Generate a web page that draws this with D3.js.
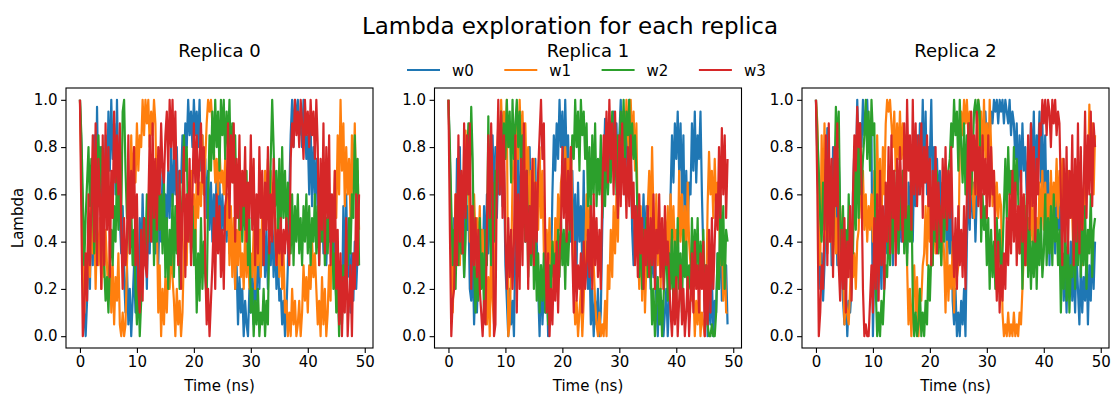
<!DOCTYPE html>
<html>
<head>
<meta charset="utf-8">
<script src="https://cdn.jsdelivr.net/npm/d3@7"></script>
<style>
  body { margin: 0; background: #fff; }
  svg { display: block; font-family: "DejaVu Sans", sans-serif; }
</style>
</head>
<body>
<svg id="chart" width="1112" height="398"></svg>
<script>
// chart data
const replicaNames = ["Replica 0", "Replica 1", "Replica 2"];
const seriesNames = ["w0", "w1", "w2", "w3"];
const seriesColors = ["#1f77b4", "#ff7f0e", "#2ca02c", "#d62728"];
const timeStep = 0.25; // ns between samples
const xTicks = [0, 10, 20, 30, 40, 50];
const yTicks = [0.0, 0.2, 0.4, 0.6, 0.8, 1.0];

// replica 0, one row = 5 ns
const rep0W0 = [
  1.0, 0.8, 0.4, 0.1, 0.0, 0.15, 0.45, 0.2, 0.6, 0.3, 0.85, 0.4, 0.97, 0.55, 0.8, 0.35, 0.7, 0.5, 0.85, 0.6,
  0.95, 0.7, 1.0, 0.75, 0.9, 0.6, 1.0, 0.65, 0.5, 0.35, 0.55, 0.25, 0.1, 0.3, 0.05, 0.2, 0.0, 0.15, 0.3, 0.1,
  0.4, 0.15, 0.5, 0.25, 0.6, 0.3, 0.45, 0.2, 0.55, 0.35, 0.65, 0.4, 0.7, 0.35, 0.6, 0.3, 0.55, 0.4, 0.7, 0.45,
  0.6, 0.45, 0.7, 0.5, 0.8, 0.55, 0.75, 0.6, 0.8, 0.55, 0.7, 0.65, 0.85, 0.7, 0.9, 0.8, 1.0, 0.85, 0.95, 0.8,
  1.0, 0.85, 0.95, 0.8, 1.0, 0.7, 0.85, 0.6, 0.75, 0.5, 0.7, 0.45, 0.65, 0.4, 0.6, 0.45, 0.7, 0.5, 0.65, 0.4,
  0.6, 0.45, 0.55, 0.4, 0.6, 0.35, 0.5, 0.3, 0.45, 0.2, 0.3, 0.05, 0.25, 0.1, 0.2, 0.0, 0.15, 0.05, 0.0, 0.2,
  0.1, 0.3, 0.05, 0.25, 0.15, 0.4, 0.2, 0.45, 0.3, 0.5, 0.25, 0.45, 0.2, 0.4, 0.3, 0.5, 0.25, 0.45, 0.2, 0.35,
  0.15, 0.2, 0.05, 0.15, 0.0, 0.1, 0.3, 0.6, 0.85, 1.0, 0.8, 1.0, 0.9, 1.0, 0.85, 0.95, 0.8, 1.0, 0.9, 0.75,
  0.85, 0.6, 0.9, 0.55, 0.8, 0.6, 0.75, 0.5, 0.65, 0.4, 0.6, 0.35, 0.55, 0.3, 0.5, 0.4, 0.6, 0.35, 0.5, 0.3,
  0.15, 0.4, 0.05, 0.3, 0.1, 0.55, 0.2, 0.6, 0.25, 0.45, 0.1, 0.35, 0.15, 0.4, 0.2, 0.35, 0.3
];
const rep0W1 = [
  1.0, 0.7, 0.35, 0.1, 0.3, 0.2, 0.5, 0.25, 0.6, 0.35, 0.55, 0.2, 0.45, 0.3, 0.5, 0.2, 0.4, 0.25, 0.45, 0.3,
  0.15, 0.4, 0.1, 0.3, 0.05, 0.25, 0.15, 0.35, 0.05, 0.0, 0.1, 0.0, 0.05, 0.3, 0.55, 0.45, 0.85, 0.6, 0.8, 0.65,
  0.9, 0.7, 0.85, 0.8, 1.0, 0.85, 1.0, 0.9, 1.0, 0.8, 0.95, 0.85, 1.0, 0.9, 0.5, 0.1, 0.3, 0.0, 0.2, 0.05,
  0.25, 0.1, 0.3, 0.2, 0.4, 0.25, 0.15, 0.0, 0.2, 0.05, 0.15, 0.0, 0.1, 0.35, 0.55, 0.3, 0.65, 0.4, 0.7, 0.45,
  0.6, 0.35, 0.7, 0.5, 0.65, 0.55, 0.85, 0.6, 0.75, 0.9, 1.0, 0.95, 1.0, 0.9, 0.8, 0.65, 0.75, 0.6, 0.8, 0.65,
  0.7, 0.6, 0.75, 0.45, 0.6, 0.3, 0.55, 0.25, 0.5, 0.2, 0.45, 0.3, 0.55, 0.25, 0.35, 0.2, 0.45, 0.25, 0.4, 0.2,
  0.35, 0.25, 0.45, 0.2, 0.4, 0.3, 0.45, 0.25, 0.55, 0.5, 0.7, 0.55, 0.75, 0.6, 0.7, 0.5, 0.65, 0.45, 0.3, 0.5,
  0.25, 0.45, 0.2, 0.35, 0.1, 0.15, 0.0, 0.1, 0.0, 0.2, 0.05, 0.15, 0.0, 0.05, 0.15, 0.0, 0.1, 0.3, 0.15, 0.25,
  0.1, 0.3, 0.2, 0.4, 0.25, 0.35, 0.2, 0.05, 0.15, 0.0, 0.25, 0.05, 0.2, 0.0, 0.1, 0.3, 0.15, 0.55, 0.4, 0.7,
  0.5, 0.85, 0.6, 1.0, 0.7, 0.9, 0.55, 0.8, 0.6, 0.75, 0.5, 0.85, 0.6, 0.9, 0.55, 0.7, 0.45
];
const rep0W2 = [
  1.0, 0.85, 0.6, 0.3, 0.5, 0.65, 0.8, 0.55, 0.75, 0.6, 0.35, 0.55, 0.7, 0.85, 0.6, 0.8, 0.65, 0.3, 0.15, 0.25,
  0.1, 0.3, 0.45, 0.3, 0.55, 0.4, 0.7, 0.45, 0.65, 0.5, 0.95, 1.0, 0.7, 0.5, 0.65, 0.35, 0.55, 0.3, 0.45, 0.2,
  0.05, 0.25, 0.0, 0.15, 0.3, 0.5, 0.35, 0.6, 0.4, 0.7, 0.45, 0.65, 0.3, 0.55, 0.4, 0.7, 0.45, 0.6, 0.35, 0.65,
  0.25, 0.5, 0.2, 0.45, 0.3, 0.6, 0.25, 0.55, 0.35, 0.5, 0.2, 0.45, 0.6, 0.85, 0.7, 0.8, 0.45, 0.6, 0.35, 0.55,
  0.3, 0.45, 0.1, 0.35, 0.15, 0.5, 0.2, 0.4, 0.25, 0.15, 0.6, 0.85, 0.7, 0.95, 0.75, 1.0, 0.8, 0.95, 0.7, 1.0,
  0.85, 1.0, 0.75, 0.95, 0.8, 1.0, 0.7, 0.9, 0.65, 0.85, 0.5, 0.7, 0.45, 0.65, 0.4, 0.6, 0.45, 0.7, 0.3, 0.5,
  0.1, 0.2, 0.0, 0.15, 0.05, 0.2, 0.0, 0.1, 0.05, 0.2, 0.0, 0.15, 0.05, 0.5, 0.75, 1.0, 0.8, 0.55, 0.7, 0.45,
  0.75, 0.4, 0.8, 0.5, 0.7, 0.45, 0.65, 0.5, 0.35, 0.6, 0.3, 0.55, 0.4, 0.6, 0.35, 0.5, 0.3, 0.55, 0.4, 0.6,
  0.35, 0.55, 0.3, 0.5, 0.4, 0.6, 0.35, 0.55, 0.3, 0.6, 0.4, 0.55, 0.3, 0.5, 0.35, 0.6, 0.4, 0.55, 0.2, 0.35,
  0.1, 0.25, 0.0, 0.2, 0.05, 0.3, 0.15, 0.4, 0.3, 0.5, 0.35, 0.6, 0.5, 0.85, 0.6, 0.75, 0.3
];
const rep0W3 = [
  1.0, 0.5, 0.0, 0.1, 0.35, 0.15, 0.6, 0.3, 0.55, 0.85, 0.4, 0.9, 0.3, 0.75, 0.6, 0.2, 0.85, 0.3, 0.9, 0.45,
  0.8, 0.25, 0.7, 0.5, 0.95, 0.65, 0.85, 0.6, 0.9, 0.45, 0.2, 0.5, 0.3, 0.4, 0.85, 0.35, 0.7, 0.5, 0.8, 0.3,
  0.6, 0.2, 0.1, 0.45, 0.15, 0.5, 0.3, 0.25, 0.55, 0.85, 0.4, 0.9, 0.5, 0.75, 0.45, 0.8, 0.6, 0.9, 0.7, 0.65,
  0.85, 0.95, 0.7, 1.0, 0.8, 1.0, 0.75, 0.95, 0.6, 0.3, 0.7, 0.2, 0.55, 0.8, 0.25, 0.6, 0.4, 0.75, 0.3, 0.6,
  0.9, 0.65, 0.85, 0.6, 0.75, 0.9, 0.65, 0.8, 0.3, 0.05, 0.2, 0.0, 0.15, 0.3, 0.5, 0.2, 0.6, 0.35, 0.55, 0.25,
  0.45, 0.2, 0.55, 0.6, 0.9, 0.5, 0.85, 0.65, 0.9, 0.4, 0.75, 0.5, 0.85, 0.45, 0.7, 0.55, 0.8, 0.4, 0.65, 0.5,
  0.85, 0.45, 0.75, 0.3, 0.6, 0.35, 0.8, 0.5, 0.7, 0.3, 0.65, 0.45, 0.8, 0.35, 0.6, 0.4, 0.75, 0.5, 0.3, 0.45,
  0.35, 0.5, 0.3, 0.45, 0.35, 0.5, 0.4, 0.3, 0.75, 0.9, 0.8, 1.0, 0.85, 0.95, 0.8, 1.0, 0.9, 0.75, 1.0, 0.85,
  0.95, 0.8, 1.0, 0.85, 0.95, 0.75, 1.0, 0.8, 0.3, 0.75, 0.45, 0.9, 0.35, 0.8, 0.5, 0.85, 0.3, 0.6, 0.4, 0.7,
  0.2, 0.45, 0.05, 0.35, 0.0, 0.25, 0.1, 0.5, 0.0, 0.15, 0.3, 0.0, 0.35, 0.2, 0.6, 0.3, 0.6
];

// replica 1
const rep1W0 = [
  1.0, 0.75, 0.45, 0.2, 0.5, 0.3, 0.75, 0.4, 0.8, 0.35, 0.6, 0.25, 0.7, 0.45, 0.55, 0.2, 0.15, 0.35, 0.05, 0.25,
  0.1, 0.3, 0.2, 0.45, 0.25, 0.55, 0.3, 0.6, 0.35, 0.5, 0.6, 0.85, 0.55, 0.8, 0.5, 0.75, 0.6, 0.85, 0.55, 0.7,
  0.3, 0.15, 0.0, 0.2, 0.05, 0.15, 0.0, 0.4, 0.55, 0.8, 0.45, 0.7, 0.5, 0.75, 0.4, 0.65, 0.55, 0.8, 0.45, 0.7,
  0.5, 0.75, 0.4, 0.2, 0.0, 0.3, 0.05, 0.2, 0.1, 0.3, 0.0, 0.15, 0.25, 0.6, 0.85, 0.7, 0.9, 0.75, 1.0, 0.8,
  0.95, 0.7, 1.0, 0.75, 0.85, 0.6, 0.4, 0.7, 0.35, 0.6, 0.3, 0.65, 0.4, 0.55, 0.3, 0.7, 0.25, 0.4, 0.2, 0.35,
  0.05, 0.2, 0.0, 0.15, 0.05, 0.2, 0.0, 0.1, 0.45, 0.7, 0.92, 0.75, 0.9, 0.7, 0.85, 0.75, 0.95, 0.8, 0.9, 0.65,
  0.85, 1.0, 0.7, 0.95, 0.6, 0.85, 0.75, 1.0, 0.8, 0.45, 0.3, 0.55, 0.35, 0.6, 0.3, 0.5, 0.4, 0.6, 0.35, 0.55,
  0.3, 0.45, 0.2, 0.4, 0.25, 0.35, 0.15, 0.0, 0.2, 0.05, 0.15, 0.0, 0.1, 0.2, 0.0, 0.15, 0.6, 0.85, 0.65, 0.9,
  0.75, 0.95, 0.7, 0.9, 0.6, 0.85, 0.4, 0.7, 0.45, 0.65, 0.6, 0.9, 0.7, 0.95, 0.65, 0.85, 0.75, 0.95, 0.6, 0.35,
  0.1, 0.3, 0.0, 0.2, 0.05, 0.25, 0.0, 0.15, 0.1, 0.35, 0.2, 0.5, 0.15, 0.4, 0.2, 0.3, 0.05
];
const rep1W1 = [
  1.0, 0.7, 0.4, 0.1, 0.35, 0.6, 0.4, 0.75, 0.3, 0.55, 0.45, 0.8, 0.87, 0.6, 0.75, 0.4, 0.55, 0.35, 0.6, 0.4,
  0.5, 0.35, 0.55, 0.3, 0.45, 0.2, 0.35, 0.05, 0.25, 0.0, 0.4, 0.15, 0.05, 0.45, 0.75, 0.9, 0.7, 1.0, 0.8, 0.95,
  0.85, 1.0, 0.0, 0.05, 0.3, 0.65, 0.8, 0.6, 0.9, 0.75, 1.0, 0.8, 0.95, 0.7, 0.9, 0.6, 0.8, 0.45, 0.7, 0.5,
  0.75, 0.4, 0.65, 0.45, 0.8, 0.5, 0.7, 0.35, 0.2, 0.45, 0.3, 0.5, 0.25, 0.4, 0.2, 0.5, 0.35, 0.6, 0.45, 0.65,
  0.7, 0.6, 0.8, 0.65, 0.75, 0.6, 0.8, 0.5, 0.2, 0.05, 0.15, 0.0, 0.1, 0.2, 0.0, 0.15, 0.35, 0.6, 0.4, 0.55,
  0.35, 0.5, 0.3, 0.15, 0.05, 0.0, 0.1, 0.0, 0.05, 0.0, 0.15, 0.0, 0.3, 0.2, 0.45, 0.25, 0.55, 0.35, 0.6, 0.4,
  0.75, 0.9, 0.7, 0.95, 0.8, 1.0, 0.85, 0.75, 1.0, 0.8, 0.95, 0.7, 0.9, 0.4, 0.2, 0.55, 0.15, 0.45, 0.1, 0.3,
  0.55, 0.7, 0.45, 0.8, 0.5, 0.35, 0.6, 0.3, 0.5, 0.2, 0.45, 0.25, 0.5, 0.35, 0.55, 0.3, 0.6, 0.4, 0.55, 0.35,
  0.45, 0.3, 0.7, 0.4, 0.6, 0.35, 0.55, 0.3, 0.65, 0.4, 0.3, 0.15, 0.2, 0.0, 0.15, 0.05, 0.2, 0.0, 0.1, 0.05,
  0.0, 0.15, 0.55, 0.78, 0.6, 0.7, 0.5, 0.75, 0.55, 0.65, 0.5, 0.3, 0.45, 0.15, 0.35, 0.1, 0.1
];
const rep1W2 = [
  1.0, 0.8, 0.55, 0.3, 0.45, 0.2, 0.5, 0.3, 0.6, 0.35, 0.55, 0.25, 0.4, 0.7, 0.9, 0.65, 0.97, 0.75, 0.3, 0.1,
  0.4, 0.15, 0.5, 0.2, 0.35, 0.1, 0.45, 0.3, 0.93, 0.5, 0.3, 0.65, 0.4, 0.7, 0.6, 0.85, 0.65, 0.95, 0.7, 0.9,
  0.75, 1.0, 0.8, 0.95, 0.65, 1.0, 0.75, 0.9, 1.0, 0.8, 0.95, 0.7, 0.85, 0.6, 0.4, 0.7, 0.25, 0.55, 0.3, 0.65,
  0.2, 0.45, 0.15, 0.35, 0.1, 0.3, 0.15, 0.35, 0.1, 0.25, 0.05, 0.3, 0.2, 0.4, 0.25, 0.35, 0.2, 0.45, 0.25, 0.5,
  0.3, 0.45, 0.2, 0.5, 0.3, 0.45, 0.7, 0.85, 0.75, 1.0, 0.8, 0.95, 0.7, 1.0, 0.85, 0.95, 0.75, 0.9, 0.55, 0.8,
  0.5, 0.85, 0.6, 0.9, 0.55, 0.75, 0.6, 0.85, 0.5, 0.7, 0.55, 0.8, 0.6, 0.75, 0.65, 0.95, 0.7, 0.9, 0.6, 0.85,
  0.7, 0.95, 0.8, 1.0, 0.75, 0.95, 0.85, 1.0, 0.7, 0.9, 0.75, 0.85, 0.7, 0.45, 0.25, 0.5, 0.2, 0.45, 0.3, 0.5,
  0.25, 0.4, 0.3, 0.05, 0.2, 0.0, 0.15, 0.25, 0.05, 0.2, 0.0, 0.15, 0.3, 0.4, 0.15, 0.35, 0.2, 0.45, 0.1, 0.4,
  0.15, 0.5, 0.2, 0.35, 0.1, 0.45, 0.25, 0.4, 0.15, 0.3, 0.2, 0.5, 0.25, 0.45, 0.3, 0.5, 0.2, 0.4, 0.25, 0.45,
  0.15, 0.3, 0.05, 0.0, 0.0, 0.05, 0.0, 0.0, 0.1, 0.35, 0.2, 0.6, 0.3, 0.55, 0.2, 0.45, 0.4
];
const rep1W3 = [
  1.0, 0.45, 0.0, 0.15, 0.2, 0.6, 0.3, 0.85, 0.4, 0.7, 0.35, 0.9, 0.5, 0.85, 0.6, 0.9, 0.2, 0.55, 0.3, 0.5,
  0.25, 0.45, 0.2, 0.1, 0.0, 0.15, 0.05, 0.45, 0.85, 0.5, 0.9, 0.6, 0.0, 0.05, 0.7, 1.0, 0.6, 0.95, 0.5, 0.85,
  0.4, 0.2, 0.5, 0.25, 0.45, 0.2, 0.4, 0.85, 0.1, 0.6, 0.2, 0.75, 0.3, 0.9, 0.4, 0.7, 0.2, 0.55, 0.35, 0.75,
  0.3, 0.65, 0.4, 0.7, 0.85, 1.0, 0.75, 0.9, 0.4, 0.1, 0.35, 0.0, 0.2, 0.05, 0.3, 0.15, 0.4, 0.1, 0.35, 0.45,
  0.8, 0.5, 0.75, 0.4, 0.7, 0.45, 0.8, 0.35, 0.1, 0.4, 0.15, 0.3, 0.2, 0.35, 0.1, 0.4, 0.2, 0.3, 0.45, 0.25,
  0.55, 0.2, 0.6, 0.3, 0.5, 0.25, 0.45, 0.2, 0.6, 0.85, 0.7, 0.95, 0.65, 1.0, 0.75, 0.9, 0.6, 0.95, 0.7, 0.5,
  0.85, 0.55, 0.9, 0.6, 0.75, 0.5, 0.8, 0.55, 0.85, 0.5, 0.65, 0.3, 0.55, 0.25, 0.6, 0.35, 0.5, 0.2, 0.45, 0.3,
  0.55, 0.25, 0.5, 0.3, 0.6, 0.2, 0.45, 0.35, 0.6, 0.25, 0.5, 0.2, 0.55, 0.3, 0.4, 0.25, 0.1, 0.0, 0.2, 0.05,
  0.25, 0.0, 0.15, 0.3, 0.05, 0.2, 0.0, 0.1, 0.25, 0.0, 0.15, 0.35, 0.1, 0.4, 0.2, 0.3, 0.1, 0.35, 0.2, 0.4,
  0.0, 0.3, 0.05, 0.45, 0.1, 0.5, 0.2, 0.4, 0.6, 0.45, 0.8, 0.5, 0.88, 0.6, 0.85, 0.5, 0.75
];

// replica 2
const rep2W0 = [
  1.0, 0.75, 0.5, 0.2, 0.35, 0.15, 0.3, 0.6, 0.88, 0.4, 0.7, 0.3, 0.8, 0.45, 0.65, 0.3, 0.75, 0.5, 0.35, 0.15,
  0.05, 0.2, 0.0, 0.15, 0.1, 0.2, 0.6, 0.8, 0.65, 1.0, 0.75, 0.9, 0.8, 1.0, 0.85, 0.95, 1.0, 0.8, 0.9, 0.85,
  0.0, 0.3, 0.45, 0.15, 0.25, 0.4, 0.2, 0.5, 0.3, 0.6, 0.35, 0.7, 0.4, 0.55, 0.3, 0.65, 0.45, 0.6, 0.35, 0.55,
  0.4, 0.7, 0.45, 0.6, 0.35, 0.65, 0.5, 0.7, 0.4, 0.75, 0.55, 0.85, 0.6, 0.9, 0.7, 1.0, 0.65, 0.95, 0.6, 0.8,
  0.75, 1.0, 0.6, 0.8, 0.5, 0.75, 0.55, 0.7, 0.5, 0.65, 0.45, 0.6, 0.3, 0.55, 0.35, 0.6, 0.15, 0.05, 0.2, 0.0,
  0.1, 0.0, 0.15, 0.05, 0.2, 0.0, 0.4, 0.65, 0.45, 0.7, 0.5, 0.65, 0.4, 0.6, 0.85, 0.95, 0.8, 0.9, 0.85, 0.95,
  0.8, 0.9, 0.85, 0.95, 0.9, 1.0, 0.95, 1.0, 0.9, 1.0, 0.95, 1.0, 0.9, 1.0, 0.95, 0.9, 1.0, 0.85, 0.95, 0.9,
  0.75, 0.9, 0.6, 0.85, 0.65, 0.9, 0.7, 0.8, 0.6, 0.75, 0.65, 0.9, 0.7, 0.95, 0.6, 0.85, 0.75, 0.95, 0.65, 0.9,
  0.6, 0.85, 0.5, 0.7, 0.3, 0.65, 0.4, 0.6, 0.35, 0.7, 0.45, 0.6, 0.3, 0.35, 0.15, 0.3, 0.1, 0.35, 0.2, 0.4,
  0.15, 0.3, 0.1, 0.35, 0.2, 0.05, 0.3, 0.1, 0.25, 0.15, 0.35, 0.05, 0.3, 0.15, 0.4, 0.2, 0.4
];
const rep2W1 = [
  1.0, 0.9, 0.6, 0.3, 0.85, 0.5, 0.9, 0.45, 0.35, 0.6, 0.4, 0.55, 0.3, 0.6, 0.35, 0.5, 0.3, 0.55, 0.4, 0.3,
  0.05, 0.15, 0.1, 0.05, 0.2, 0.4, 0.25, 0.35, 0.2, 0.4, 0.45, 0.8, 0.5, 0.7, 0.45, 0.6, 0.4, 0.55, 0.45, 0.6,
  0.4, 0.7, 0.5, 0.85, 0.55, 0.75, 0.45, 0.8, 0.6, 0.9, 1.0, 0.95, 1.0, 0.9, 0.8, 0.95, 0.7, 0.9, 0.75, 0.95,
  0.75, 0.9, 0.7, 0.85, 0.3, 0.05, 0.2, 0.0, 0.15, 0.3, 0.1, 0.25, 0.0, 0.2, 0.15, 0.3, 0.35, 0.55, 0.3, 0.6,
  0.4, 0.55, 0.3, 0.6, 0.35, 0.5, 0.4, 0.5, 0.3, 0.45, 0.35, 0.1, 0.4, 0.15, 0.3, 0.2, 0.4, 0.1, 0.35, 0.25,
  0.3, 0.8, 0.95, 0.85, 1.0, 0.9, 1.0, 0.85, 0.95, 0.8, 0.6, 0.5, 0.75, 0.6, 1.0, 0.8, 0.95, 0.7, 1.0, 0.75,
  0.9, 0.65, 1.0, 0.8, 0.55, 0.7, 0.5, 0.65, 0.5, 0.6, 0.55, 0.1, 0.0, 0.05, 0.0, 0.1, 0.0, 0.05, 0.0, 0.1,
  0.0, 0.05, 0.0, 0.1, 0.05, 0.2, 0.35, 0.55, 0.3, 0.5, 0.35, 0.6, 0.4, 0.55, 0.3, 0.5, 0.4, 0.65, 0.45, 0.7,
  0.45, 0.65, 0.4, 0.6, 0.45, 0.7, 0.5, 0.65, 0.55, 0.75, 0.5, 0.7, 0.55, 0.75, 0.5, 0.65, 0.55, 0.7, 0.5, 0.6,
  0.5, 0.3, 0.55, 0.35, 0.6, 0.4, 0.5, 0.3, 0.45, 0.6, 0.8, 0.65, 0.98, 0.7, 0.9, 0.6, 0.85
];
const rep2W2 = [
  1.0, 0.85, 0.7, 0.5, 0.4, 0.65, 0.45, 0.75, 0.5, 0.7, 0.45, 0.6, 0.4, 0.65, 0.97, 0.8, 0.95, 0.5, 0.3, 0.55,
  0.2, 0.45, 0.25, 0.6, 0.3, 0.4, 0.35, 0.7, 0.45, 0.85, 0.5, 0.9, 0.6, 0.75, 0.85, 1.0, 0.75, 0.95, 0.7, 1.0,
  0.85, 0.9, 0.2, 0.0, 0.1, 0.0, 0.15, 0.05, 0.2, 0.3, 0.25, 0.5, 0.3, 0.6, 0.35, 0.7, 0.4, 0.55, 0.35, 0.65,
  0.45, 0.7, 0.35, 0.6, 0.3, 0.55, 0.4, 0.65, 0.15, 0.0, 0.1, 0.0, 0.05, 0.2, 0.0, 0.1, 0.0, 0.15, 0.05, 0.3,
  0.15, 0.35, 0.3, 0.6, 0.4, 0.7, 0.35, 0.55, 0.3, 0.65, 0.4, 0.6, 0.45, 0.7, 0.75, 0.9, 0.8, 1.0, 0.85, 0.95,
  0.7, 1.0, 0.8, 0.65, 0.9, 0.6, 0.85, 0.7, 0.9, 0.6, 0.75, 0.95, 1.0, 0.9, 1.0, 0.95, 0.4, 0.6, 0.45, 0.55,
  0.3, 0.5, 0.2, 0.45, 0.25, 0.4, 0.2, 0.5, 0.3, 0.45, 0.25, 0.35, 0.55, 0.75, 0.5, 0.8, 0.6, 0.7, 0.5, 0.8,
  0.55, 0.75, 0.6, 0.35, 0.55, 0.2, 0.5, 0.3, 0.6, 0.25, 0.45, 0.2, 0.4, 0.25, 0.5, 0.2, 0.45, 0.3, 0.5, 0.25,
  0.35, 0.6, 0.3, 0.5, 0.35, 0.55, 0.3, 0.6, 0.4, 0.5, 0.3, 0.45, 0.1, 0.35, 0.2, 0.5, 0.15, 0.4, 0.1, 0.3,
  0.25, 0.5, 0.2, 0.55, 0.3, 0.6, 0.25, 0.45, 0.3, 0.55, 0.2, 0.45, 0.35, 0.6, 0.25, 0.45, 0.5
];
const rep2W3 = [
  1.0, 0.6, 0.0, 0.1, 0.3, 0.2, 0.5, 0.85, 0.3, 0.9, 0.4, 0.75, 0.25, 0.8, 0.55, 0.9, 0.3, 0.15, 0.45, 0.2,
  0.5, 0.1, 0.4, 0.25, 0.55, 0.15, 0.6, 0.85, 0.7, 0.97, 0.8, 0.9, 0.65, 0.2, 0.0, 0.05, 0.0, 0.0, 0.15, 0.3,
  0.1, 0.5, 0.2, 0.6, 0.15, 0.7, 0.3, 0.55, 0.2, 0.65, 0.4, 0.8, 0.35, 0.85, 0.5, 0.7, 0.3, 0.75, 0.45, 0.8,
  0.6, 0.4, 0.9, 0.5, 1.0, 0.7, 0.85, 0.45, 1.0, 0.6, 0.9, 0.55, 0.85, 0.6, 0.9, 0.5, 0.8, 0.65, 0.85, 0.55,
  0.75, 0.3, 0.7, 0.45, 0.8, 0.35, 0.65, 0.5, 0.4, 0.75, 0.5, 0.8, 0.45, 0.7, 0.5, 0.8, 0.45, 0.25, 0.5, 0.2,
  0.55, 0.3, 0.45, 0.25, 0.55, 0.2, 0.6, 0.9, 0.5, 0.95, 0.7, 0.85, 0.6, 0.95, 0.55, 0.8, 0.5, 0.85, 0.6, 0.75,
  0.5, 0.85, 0.55, 0.8, 0.6, 0.7, 0.35, 0.15, 0.4, 0.1, 0.3, 0.15, 0.35, 0.2, 0.5, 0.3, 0.6, 0.35, 0.7, 0.4,
  0.65, 0.3, 0.55, 0.35, 0.7, 0.4, 0.6, 0.3, 0.5, 0.85, 0.45, 0.9, 0.55, 0.8, 0.4, 0.75, 0.6, 0.9, 0.85, 1.0,
  0.9, 1.0, 0.85, 1.0, 0.95, 0.8, 1.0, 0.9, 1.0, 0.85, 0.95, 0.9, 0.6, 0.3, 0.75, 0.4, 0.8, 0.35, 0.7, 0.5,
  0.85, 0.3, 0.75, 0.4, 0.9, 0.35, 0.8, 0.45, 0.6, 0.95, 0.5, 0.85, 0.6, 0.95, 0.55, 0.9, 0.8
];

const replicaSeries = [
  [rep0W0, rep0W1, rep0W2, rep0W3],
  [rep1W0, rep1W1, rep1W2, rep1W3],
  [rep2W0, rep2W1, rep2W2, rep2W3]
];

// layout
const panelLeft = [66, 434.5, 802];
const panelTop = 88;
const panelWidth = 307;
const panelHeight = 260;
const tickFont = 15;

const svg = d3.select("#chart");

const tMax = d3.max(replicaSeries.flat(), s => (s.length - 1) * timeStep);
const xPad = tMax * 0.05;

const x = d3.scaleLinear()
  .domain([-xPad, tMax + xPad])
  .range([0, panelWidth]);

const y = d3.scaleLinear()
  .domain([-0.05, 1.05])
  .range([panelHeight, 0]);

const line = d3.line()
  .x((d, i) => x(i * timeStep))
  .y(d => y(d));

replicaNames.forEach((name, r) => {
  const g = svg.append("g")
    .attr("transform", `translate(${panelLeft[r]},${panelTop})`);

  g.append("defs").append("clipPath")
    .attr("id", `clip${r}`)
    .append("rect")
    .attr("width", panelWidth)
    .attr("height", panelHeight);

  const plot = g.append("g").attr("clip-path", `url(#clip${r})`);
  replicaSeries[r].forEach((values, k) => {
    plot.append("path")
      .datum(values)
      .attr("fill", "none")
      .attr("stroke", seriesColors[k])
      .attr("stroke-width", 2.2)
      .attr("stroke-linejoin", "round")
      .attr("d", line);
  });

  const xAxis = g.append("g")
    .attr("transform", `translate(0,${panelHeight})`)
    .call(d3.axisBottom(x).tickValues(xTicks).tickFormat(d3.format("d"))
      .tickSize(4.9).tickPadding(3.5));

  const yAxis = g.append("g")
    .call(d3.axisLeft(y).tickValues(yTicks).tickFormat(d3.format(".1f"))
      .tickSize(4.9).tickPadding(3.5));

  [xAxis, yAxis].forEach(a => {
    a.select(".domain").remove();
    a.attr("font-family", "DejaVu Sans").attr("font-size", tickFont);
    a.selectAll(".tick line").attr("stroke", "#000").attr("stroke-width", 1.1);
    a.selectAll(".tick text").attr("fill", "#000");
  });

  g.append("rect")
    .attr("width", panelWidth)
    .attr("height", panelHeight)
    .attr("fill", "none")
    .attr("stroke", "#000")
    .attr("stroke-width", 1.1);

  g.append("text")
    .attr("x", panelWidth / 2)
    .attr("y", 57 - panelTop)
    .attr("text-anchor", "middle")
    .attr("font-size", 18)
    .text(name);

  g.append("text")
    .attr("x", panelWidth / 2)
    .attr("y", 391 - panelTop)
    .attr("text-anchor", "middle")
    .attr("font-size", tickFont)
    .text("Time (ns)");

  if (r === 0) {
    g.append("text")
      .attr("transform", `translate(${22.5 - panelLeft[0]},${panelHeight / 2}) rotate(-90)`)
      .attr("text-anchor", "middle")
      .attr("font-size", tickFont)
      .text("Lambda");
  }
});

// suptitle
svg.append("text")
  .attr("x", 570)
  .attr("y", 34)
  .attr("text-anchor", "middle")
  .attr("font-size", 23)
  .text("Lambda exploration for each replica");

// legend
const legend = svg.append("g").attr("transform", "translate(407,70)");
seriesNames.forEach((s, k) => {
  const item = legend.append("g").attr("transform", `translate(${k * 97.3},0)`);
  item.append("line")
    .attr("x1", 0).attr("x2", 33)
    .attr("stroke", seriesColors[k])
    .attr("stroke-width", 2.2);
  item.append("text")
    .attr("x", 45)
    .attr("y", 5.5)
    .attr("font-size", tickFont)
    .text(s);
});
</script>
</body>
</html>
